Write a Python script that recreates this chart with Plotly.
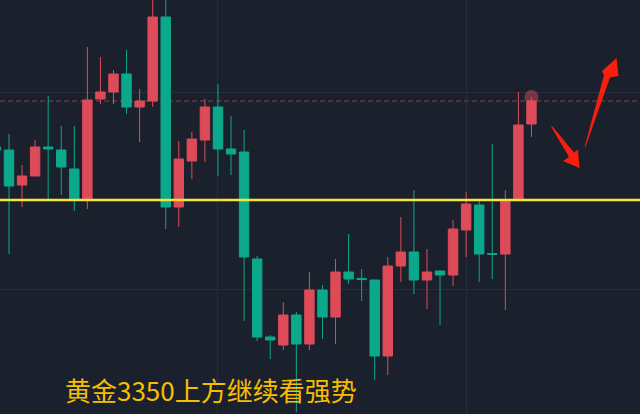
import plotly.graph_objects as go

# candle index positions
idx = list(range(42))
opens = [3363.25, 3362.5, 3353.75, 3356, 3363.25, 3362.5, 3357.75, 3350, 3375.25, 3377,
         3381.5, 3373.25, 3374.75, 3395.75, 3348.25, 3359.75, 3365, 3373.25, 3362.75, 3362,
         3335.25, 3315.75, 3313.75, 3321.25, 3314, 3327.5, 3320.75, 3332, 3330.4, 3330,
         3311, 3333.5, 3337, 3330, 3332.25, 3331.25, 3342.5, 3348.75, 3336.6, 3336.5,
         3350.25, 3369]
highs = [3365, 3366.5, 3358.75, 3365, 3376, 3368.5, 3368.5, 3388.25, 3385.75, 3382.5,
         3387.5, 3377.75, 3401.25, 3401.25, 3364.75, 3367, 3375.25, 3379, 3371, 3367.5,
         3336, 3316.25, 3324.5, 3322, 3332, 3328.75, 3335.25, 3341.5, 3332.75, 3330,
         3335.75, 3345.75, 3352.5, 3337.75, 3332.25, 3345, 3352, 3349.75, 3364, 3352.5,
         3377, 3375.75]
lows = [3361, 3336.5, 3348.25, 3356, 3350, 3351.25, 3347.25, 3347.75, 3374, 3374,
        3371.5, 3364.5, 3373.25, 3342.75, 3343.25, 3355.25, 3359.5, 3356, 3356.25, 3319.75,
        3314.75, 3310.25, 3312.5, 3297, 3312.5, 3315.25, 3314, 3329, 3324.75, 3305,
        3306.25, 3329.5, 3326.5, 3322.75, 3318.75, 3328.5, 3335.75, 3329.5, 3330.25, 3322.5,
        3350, 3365.75]
closes = [3362.5, 3353.5, 3356, 3363.25, 3362.75, 3358.25, 3350, 3375, 3377, 3381.5,
          3373.25, 3374.75, 3395.75, 3348.25, 3360.25, 3365.25, 3373.25, 3362.75, 3361.5, 3335.75,
          3315.75, 3315, 3321.25, 3314, 3327.5, 3320.75, 3332, 3330.25, 3330.1, 3311,
          3333.5, 3337, 3330, 3332, 3331.25, 3342.75, 3349, 3336.5, 3336.4, 3349.75,
          3368.75, 3374.75]

support_level = 3350
resistance_level = 3374.75
title_text = "黄金3350上方继续看强势"

BG = "#1b202d"
GRID = "#262d3b"
UP = "#dd4b59"
DOWN = "#0ca88b"

W, H = 640, 414

fig = go.Figure()
# soft glow at the top of the last candle (drawn beneath it)
fig.add_trace(go.Scatter(
    x=[idx[-1]], y=[highs[-1]], mode="markers",
    marker=dict(size=14, color="rgba(232,80,95,0.45)", line=dict(width=0)),
    showlegend=False, hoverinfo="skip",
))
fig.add_trace(go.Candlestick(
    x=idx, open=opens, high=highs, low=lows, close=closes,
    increasing=dict(line=dict(color=UP, width=1), fillcolor=UP),
    decreasing=dict(line=dict(color=DOWN, width=1), fillcolor=DOWN),
    whiskerwidth=0, showlegend=False, hoverinfo="skip",
))

def px_path(points):
    s = ""
    for k, (px, py) in enumerate(points):
        s += ("M" if k == 0 else "L") + f"{px / W:.5f},{1 - py / H:.5f} "
    return s + "Z"

ARROW = "#f71e0e"
shapes = [
    dict(type="line", xref="paper", x0=0, x1=1, yref="y", y0=resistance_level, y1=resistance_level,
         line=dict(color="#5e3a48", width=1.5, dash="5px,3px"), layer="below"),
    dict(type="line", xref="paper", x0=0, x1=1, yref="y", y0=support_level, y1=support_level,
         line=dict(color="#f8e53c", width=2.6), layer="above"),
    dict(type="path", xref="paper", yref="paper",
         path=px_path([(551, 126.5), (552.5, 126.5), (574, 152.5), (578, 149.5), (579.5, 168),
                       (563, 161), (569, 157)]),
         fillcolor=ARROW, line=dict(width=0)),
    dict(type="path", xref="paper", yref="paper",
         path=px_path([(584.5, 147.5), (585.5, 147), (610, 77.5), (618.5, 76), (616.5, 58),
                       (602, 71), (604, 75)]),
         fillcolor=ARROW, line=dict(width=0)),
]

fig.update_layout(
    width=W, height=H,
    margin=dict(l=0, r=0, t=0, b=0),
    paper_bgcolor=BG, plot_bgcolor=BG,
    boxgap=0.15, boxgroupgap=0.15,
    shapes=shapes,
    xaxis=dict(range=[0.311, 49.31], showgrid=True, gridcolor=GRID, gridwidth=1,
               tick0=17, dtick=19, showticklabels=False, zeroline=False,
               rangeslider=dict(visible=False), fixedrange=True),
    yaxis=dict(range=[3296.5, 3400], showgrid=True, gridcolor=GRID, gridwidth=1,
               tick0=3377, dtick=49.25, showticklabels=False, zeroline=False, fixedrange=True),
    annotations=[dict(
        text=title_text, xref="paper", yref="paper", x=63 / W, y=1 - 389 / H,
        xanchor="left", yanchor="middle", showarrow=False,
        font=dict(family="Noto Sans CJK SC", size=26, color="#f7be00"),
    )],
)

fig.write_html(
    "out.html",
    config={"displayModeBar": False},
    post_script="document.body.style.margin='0';document.body.style.overflow='hidden';",
)
